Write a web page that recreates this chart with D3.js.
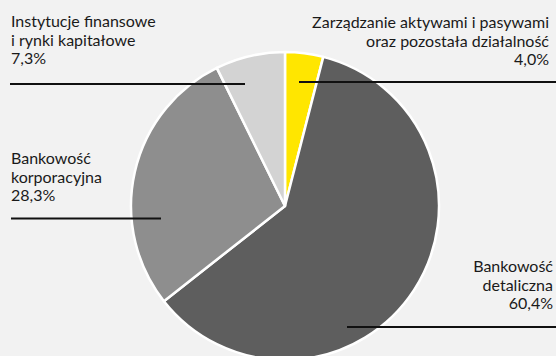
<!DOCTYPE html>
<html>
<head>
<meta charset="utf-8">
<script src="https://cdn.jsdelivr.net/npm/d3@7"></script>
<style>
  html, body { margin: 0; padding: 0; background: #f2f2f2; }
  svg { display: block; }
  text { font-family: "Lato", "DejaVu Sans", sans-serif; font-size: 16px; fill: #1a1a1a; }
</style>
</head>
<body>
<svg id="chart" width="556" height="356"></svg>
<script>
// Segment shares of the result, clockwise from 12 o'clock
const segments = [
  "Zarządzanie aktywami i pasywami oraz pozostała działalność",
  "Bankowość detaliczna",
  "Bankowość korporacyjna",
  "Instytucje finansowe i rynki kapitałowe"
];
const shares = [4.0, 60.4, 28.3, 7.3];
const colors = ["#ffe600", "#5e5e5e", "#8e8e8e", "#d3d3d3"];
const labelLines = [
  ["Zarządzanie aktywami i pasywami", "oraz pozostała działalność"],
  ["Bankowość", "detaliczna"],
  ["Bankowość", "korporacyjna"],
  ["Instytucje finansowe", "i rynki kapitałowe"]
];

const fmt = v => d3.format(".1f")(v).replace(".", ",") + "%";

const svg = d3.select("#chart");
const cx = 285, cy = 206, r = 154;

const pie = d3.pie().sort(null).value(d => d)(shares);
const arc = d3.arc().innerRadius(0).outerRadius(r);

const g = svg.append("g").attr("transform", `translate(${cx},${cy})`);
g.selectAll("path")
  .data(pie)
  .join("path")
  .attr("d", arc)
  .attr("fill", (d, i) => colors[i])
  .attr("stroke", "#ffffff")
  .attr("stroke-width", 2.5)
  .attr("stroke-linejoin", "round");

// Label blocks with leader rules
const labels = [
  { x: 549, y: 28, anchor: "end", rule: [299, 556, 82] },
  { x: 553, y: 272, anchor: "end", rule: [347, 556, 327] },
  { x: 11, y: 164, anchor: "start", rule: [11, 161, 218.5] },
  { x: 11, y: 27, anchor: "start", rule: [10, 245, 84] }
];
const lh = 18.7;

labels.forEach((L, i) => {
  const t = svg.append("text").attr("text-anchor", L.anchor);
  const lines = labelLines[i].concat([fmt(shares[i])]);
  lines.forEach((s, k) => {
    t.append("tspan").attr("x", L.x).attr("y", L.y + k * lh).text(s);
  });
  svg.append("line")
    .attr("x1", L.rule[0]).attr("x2", L.rule[1])
    .attr("y1", L.rule[2]).attr("y2", L.rule[2])
    .attr("stroke", "#111").attr("stroke-width", 2.2);
});
</script>
</body>
</html>
